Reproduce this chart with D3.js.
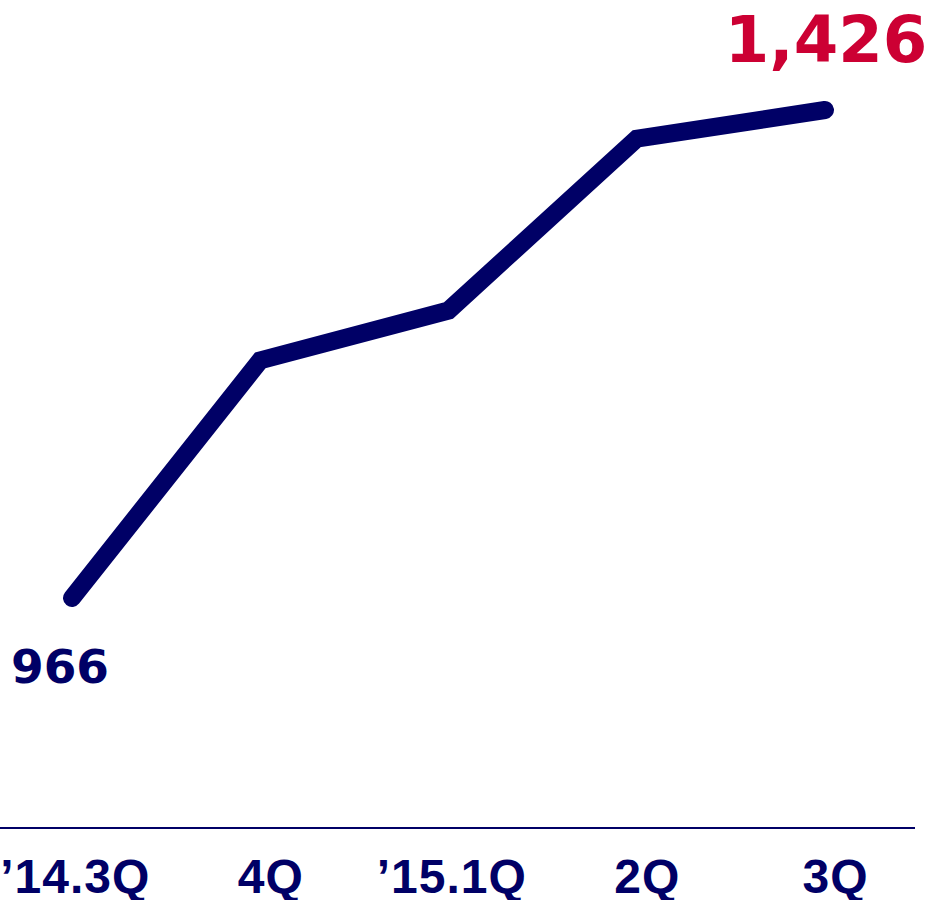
<!DOCTYPE html>
<html>
<head>
<meta charset="utf-8">
<script src="https://cdn.jsdelivr.net/npm/d3@7"></script>
<style>
  html, body { margin: 0; padding: 0; background: #fff; }
  svg { display: block; }
</style>
</head>
<body>
<div id="chart"></div>
<script>
// Quarterly series
const quarters = ["\u201914.3Q", "4Q", "\u201915.1Q", "2Q", "3Q"];
const values = [966, 1190, 1237, 1399, 1426];

const W = 929, H = 900;
const navy = "#000066";
const red = "#cc0033";

const svg = d3.select("#chart").append("svg")
  .attr("width", W).attr("height", H);

const x = d3.scalePoint().domain(quarters).range([72, 825]);
const y = d3.scaleLinear().domain([966, 1426]).range([598, 110]);

// baseline axis
const axisY = 828;
const axis = d3.axisBottom(x).tickSize(0).tickPadding(0);
const gAxis = svg.append("g").attr("transform", `translate(0,${axisY})`).call(axis);
gAxis.select(".domain").remove();
gAxis.append("line")
  .attr("x1", 0).attr("x2", 915).attr("y1", 0).attr("y2", 0)
  .attr("stroke", navy).attr("stroke-width", 2);

const labelFont = "'Liberation Sans', Arial, sans-serif";
gAxis.selectAll(".tick text")
  .attr("dy", null)
  .attr("y", 65)
  .attr("fill", navy)
  .attr("font-family", labelFont)
  .attr("font-weight", "bold")
  .attr("font-size", 48)
  .attr("letter-spacing", 1)
  .attr("text-anchor", "middle")
  .each(function (d) {
    // a leading year apostrophe hangs to the left of the centred label
    const t = d3.select(this);
    let shift = 10;
    if (d.startsWith("\u2019")) {
      const w = this.getSubStringLength(0, 1);
      shift -= w / 2;
    }
    t.attr("dx", shift);
  });

// line
const line = d3.line()
  .x((d, i) => x(quarters[i]))
  .y(d => y(d));

svg.append("path")
  .datum(values)
  .attr("d", line)
  .attr("fill", "none")
  .attr("stroke", navy)
  .attr("stroke-width", 18)
  .attr("stroke-linecap", "round")
  .attr("stroke-linejoin", "miter");

// first and last value labels
const fmt = d3.format(",");
const first = 0, last = values.length - 1;
svg.append("text")
  .attr("x", x(quarters[first]) - 12)
  .attr("y", y(values[first]) + 85)
  .attr("text-anchor", "middle")
  .attr("fill", navy)
  .attr("font-family", "'DejaVu Sans', sans-serif")
  .attr("font-weight", "bold")
  .attr("font-size", 47)
  .text(fmt(values[first]));

svg.append("text")
  .attr("x", x(quarters[last]) + 1)
  .attr("y", y(values[last]) - 48)
  .attr("text-anchor", "middle")
  .attr("fill", red)
  .attr("font-family", "'DejaVu Sans', sans-serif")
  .attr("font-weight", "bold")
  .attr("font-size", 64)
  .text(fmt(values[last]));
</script>
</body>
</html>
